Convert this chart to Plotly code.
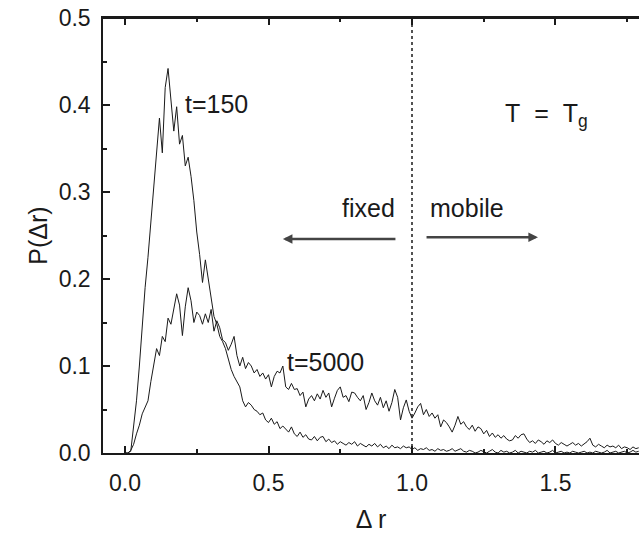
import plotly.graph_objects as go

# x grid (Delta r), step 0.01
dr = [round(i * 0.01, 2) for i in range(180)]

# P(Delta r) for t=150, in thousandths
p150_milli = [
    0, 0, 2, 30, 60, 100, 150, 190, 225, 265,
    300, 340, 385, 345, 420, 442, 405, 370, 398, 355,
    365, 330, 340, 318, 290, 254, 228, 196, 222, 200,
    180, 157, 148, 134, 128, 120, 108, 96, 88, 82,
    76, 60, 53, 58, 55, 50, 48, 44, 46, 38,
    35, 40, 33, 36, 28, 31, 27, 24, 30, 22,
    19, 24, 18, 21, 16, 15, 19, 14, 18, 19,
    13, 16, 12, 14, 10, 13, 11, 9, 12, 10,
    13, 8, 11, 9, 7, 10, 8, 11, 7, 10,
    6, 8, 5, 9, 6, 7, 5, 8, 6, 7,
    4, 6, 3, 5, 4, 6, 3, 4, 2, 5,
    3, 4, 2, 3, 5, 2, 4, 5, 2, 1,
    3, 2, 0, 1, 3, 1, 0, 2, 4, 1,
    0, 3, 1, 2, 0, 1, 3, 0, 2, 1,
    0, 2, 1, 3, 0, 1, 2, 0, 1, 3,
    0, 1, 2, 0, 1, 0, 2, 1, 0, 1,
    2, 0, 1, 0, 2, 1, 0, 1, 3, 0,
    1, 2, 0, 1, 2, 0, 1, 3, 1, 2,
]

# P(Delta r) for t=5000, in thousandths
p5000_milli = [
    0, 0, 3, 10, 22, 32, 45, 52, 60, 82,
    100, 120, 112, 134, 128, 155, 148, 165, 183, 170,
    135, 168, 190, 175, 150, 162, 158, 148, 160, 150,
    165, 140, 152, 144, 130, 127, 118, 125, 134, 112,
    100, 110, 97, 104, 100, 92, 96, 88, 92, 85,
    90, 76, 88, 94, 92, 100, 76, 73, 80, 73,
    74, 66, 70, 53, 62, 66, 60, 68, 62, 72,
    64, 69, 53, 63, 72, 76, 64, 66, 59, 70,
    69, 64, 60, 66, 50, 58, 69, 60, 55, 64,
    52, 60, 48, 58, 73, 64, 38, 52, 61, 48,
    40, 46, 53, 57, 44, 50, 42, 46, 40, 44,
    30, 38, 35, 30, 24, 32, 42, 33, 36, 30,
    27, 32, 25, 30, 28, 22, 26, 19, 23, 18,
    21, 17, 20, 16, 14, 15, 20, 17, 21, 22,
    16, 12, 14, 11, 15, 13, 10, 14, 12, 15,
    11, 9, 12, 10, 8, 10, 12, 9, 11, 8,
    10, 13, 17, 9, 7, 10, 8, 6, 9, 7,
    8, 6, 9, 5, 7, 6, 4, 7, 5, 6,
]

p150 = [v / 1000 for v in p150_milli]
p5000 = [v / 1000 for v in p5000_milli]

x_ticks = [0.0, 0.5, 1.0, 1.5]
x_tick_text = ["0.0", "0.5", "1.0", "1.5"]
y_ticks = [0.0, 0.1, 0.2, 0.3, 0.4, 0.5]
y_tick_text = ["0.0", "0.1", "0.2", "0.3", "0.4", "0.5"]

INK = "#1a1a1a"
FONT = "Liberation Sans, Arial, sans-serif"
X_RANGE = [-0.0767, 1.791]

fig = go.Figure()
fig.add_trace(go.Scatter(x=dr, y=p150, mode="lines", line=dict(color=INK, width=1),
                         name="t=150", showlegend=False))
fig.add_trace(go.Scatter(x=dr, y=p5000, mode="lines", line=dict(color=INK, width=1),
                         name="t=5000", showlegend=False))

# top frame line
fig.add_shape(type="line", x0=0, x1=1, y0=1, y1=1, xref="paper", yref="paper",
              line=dict(color=INK, width=2))
# dotted separator at Delta r = 1
fig.add_shape(type="line", x0=1.0, x1=1.0, y0=0, y1=0.5, xref="x", yref="y",
              line=dict(color=INK, width=1.5, dash="dot"))

# arrows
fig.add_annotation(x=0.55, y=0.246, ax=0.958, ay=0.246, xref="x", yref="y",
                   axref="x", ayref="y", showarrow=True, arrowhead=2, arrowsize=0.8,
                   arrowwidth=2.4, arrowcolor="#444", text=" ")
fig.add_annotation(x=1.439, y=0.248, ax=1.035, ay=0.248, xref="x", yref="y",
                   axref="x", ayref="y", showarrow=True, arrowhead=2, arrowsize=0.8,
                   arrowwidth=2.4, arrowcolor="#444", text=" ")

txt = dict(family=FONT, size=25, color=INK)
fig.add_annotation(x=0.948, y=0.282, text="fixed", showarrow=False, xanchor="right",
                   font=txt)
fig.add_annotation(x=1.056, y=0.282, text="mobile", showarrow=False, xanchor="left",
                   font=txt)
fig.add_annotation(x=1.317, y=0.388, text="T\u00a0\u00a0=\u00a0\u00a0T<sub>g</sub>",
                   showarrow=False, xanchor="left", font=txt)
fig.add_annotation(x=0.202, y=0.401, text="t=150", showarrow=False, xanchor="left",
                   font=txt)
fig.add_annotation(x=0.557, y=0.105, text="t=5000", showarrow=False, xanchor="left",
                   font=txt)

fig.update_layout(
    width=639, height=538,
    margin=dict(l=103, r=0, t=18, b=85),
    paper_bgcolor="white", plot_bgcolor="white",
    font=dict(family=FONT, size=23, color=INK),
    xaxis=dict(range=X_RANGE, tickvals=x_ticks, ticktext=x_tick_text,
               ticks="inside", ticklen=7, tickwidth=1.5, tickcolor=INK,
               minor=dict(dtick=0.25, tick0=0, ticks="inside", ticklen=4, tickcolor=INK),
               showline=True, linecolor=INK, linewidth=2, mirror="ticks",
               showgrid=False, zeroline=False, ticklabelstandoff=8,
               title=dict(text="Δ r", font=dict(size=25), standoff=16)),
    yaxis=dict(range=[0, 0.5], tickvals=y_ticks, ticktext=y_tick_text,
               ticks="inside", ticklen=7, tickwidth=1.5, tickcolor=INK,
               minor=dict(dtick=0.05, tick0=0, ticks="inside", ticklen=4, tickcolor=INK),
               showline=True, linecolor=INK, linewidth=1.5,
               showgrid=False, zeroline=False, ticklabelstandoff=6,
               title=dict(text="P(Δr)", font=dict(size=25), standoff=4)),
)

# remove the default 8px page margin so the figure sits at the window origin
fig.write_html("out.html", config={"displayModeBar": False},
               post_script="document.body.style.margin='0';document.body.style.overflow='hidden';")
